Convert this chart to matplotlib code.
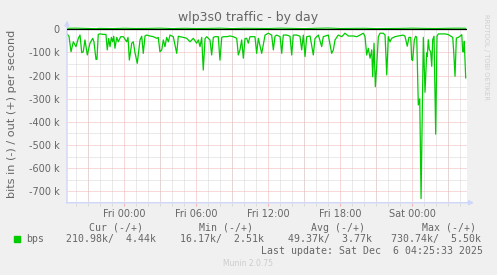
import matplotlib
matplotlib.use("Agg")
import matplotlib.pyplot as plt
from matplotlib.patches import Rectangle
from matplotlib.ticker import MultipleLocator, FuncFormatter

# hours relative to Fri 00:00, inbound traffic in kbit/s (drawn negative)
in_hours = [-4.75, -4.61, -4.44, -4.25, -4.03, -3.83, -3.69, -3.55, -3.42, -3.28,
            -3.08, -2.86, -2.63, -2.53, -2.36, -2.28, -2.17, -2.03, -1.78, -1.53,
            -1.42, -1.30, -1.19, -1.08, -0.97, -0.88, -0.78, -0.63, -0.50, -0.30,
            -0.08, 0.20, 0.31, 0.42, 0.62, 0.75, 0.89, 1.08, 1.31, 1.45,
            1.58, 1.73, 1.87, 2.14, 2.42, 2.70, 2.83, 2.97, 3.12, 3.25,
            3.39, 3.53, 3.67, 3.81, 4.08, 4.37, 4.50, 4.64, 4.92, 5.20,
            5.48, 5.75, 6.03, 6.17, 6.31, 6.45, 6.58, 6.73, 6.87, 7.14,
            7.28, 7.42, 7.56, 7.83, 7.97, 8.12, 8.25, 8.53, 8.81, 9.08,
            9.37, 9.50, 9.64, 9.78, 9.92, 10.06, 10.20, 10.33, 10.47, 10.62,
            10.89, 11.03, 11.17, 11.45, 11.73, 12.00, 12.28, 12.42, 12.56, 12.70,
            12.98, 13.12, 13.25, 13.53, 13.81, 13.95, 14.08, 14.37, 14.64, 14.78,
            14.92, 15.06, 15.20, 15.48, 15.75, 15.89, 16.03, 16.17, 16.45, 16.58,
            17.00, 17.28, 17.42, 17.56, 17.83, 18.12, 18.39, 18.67, 19.08, 19.37,
            19.64, 19.92, 20.06, 20.20, 20.33, 20.48, 20.62, 20.70, 20.81, 20.92,
            21.03, 21.17, 21.31, 21.58, 21.73, 21.87, 22.00, 22.14, 22.28, 22.56,
            22.83, 23.25, 23.39, 23.58, 23.72, 23.87, 23.95, 24.03, 24.17, 24.28,
            24.37, 24.50, 24.62, 24.73, 24.92, 25.06, 25.20, 25.25, 25.33, 25.42,
            25.53, 25.62, 25.70, 25.81, 25.95, 26.06, 26.17, 26.45, 26.73, 27.00,
            27.22, 27.37, 27.45, 27.56, 27.67, 27.83, 27.98, 28.12, 28.20, 28.28,
            28.33, 28.45]
in_kbps = [22, 30, 97, 54, 75, 39, 25, 101, 97, 46,
           111, 60, 39, 54, 130, 130, 22, 20, 22, 22,
           89, 40, 75, 35, 54, 30, 82, 35, 54, 32,
           32, 54, 35, 133, 60, 54, 101, 147, 46, 30,
           104, 28, 25, 29, 32, 39, 35, 97, 89, 46,
           75, 35, 54, 25, 32, 104, 30, 32, 35, 39,
           54, 39, 60, 46, 75, 35, 176, 40, 32, 46,
           111, 35, 32, 32, 133, 35, 32, 32, 29, 32,
           39, 111, 89, 46, 125, 40, 39, 60, 32, 32,
           32, 104, 39, 104, 25, 17, 25, 89, 30, 25,
           32, 104, 25, 25, 30, 111, 25, 25, 30, 89,
           25, 118, 32, 29, 111, 40, 32, 25, 75, 32,
           25, 104, 89, 46, 25, 32, 17, 29, 29, 32,
           25, 17, 32, 111, 82, 125, 89, 205, 60, 248,
           161, 32, 17, 17, 25, 197, 32, 54, 39, 32,
           29, 25, 30, 73, 35, 35, 131, 135, 45, 30,
           35, 327, 300, 731, 35, 272, 102, 117, 45, 88,
           97, 160, 45, 30, 453, 30, 20, 20, 20, 23,
           30, 35, 97, 203, 38, 35, 30, 23, 97, 97,
           52, 210]

# outbound traffic in kbit/s (drawn positive)
out_hours = [-4.75, -4.0, -3.0, -2.3, -2.1, -1.0, 0.0, 1.0, 2.0, 3.0,
             4.0, 5.0, 6.0, 7.0, 8.0, 9.0, 10.0, 11.0, 12.0, 13.0,
             14.0, 15.0, 16.0, 17.0, 18.0, 19.0, 20.0, 21.0, 22.0, 23.0,
             24.0, 25.0, 26.0, 27.0, 28.0, 28.45]
out_kbps = [4.5, 5.0, 3.5, 2.5, 4.0, 3.0, 4.5, 3.5, 4.0, 5.0,
            3.0, 4.5, 3.5, 4.0, 5.0, 3.0, 4.5, 4.0, 3.5, 5.0,
            4.0, 3.0, 4.5, 5.5, 3.5, 4.0, 4.5, 3.0, 3.5, 4.0,
            5.0, 4.0, 3.5, 4.5, 5.0, 4.4]

tick_hours = [0, 6, 12, 18, 24]
tick_labels = ["Fri 00:00", "Fri 06:00", "Fri 12:00", "Fri 18:00", "Sat 00:00"]

W, H = 497, 275
GREY = "#666666"
MGRID = "#f3b4b4"
GRID = "#d6d6d6"
AXIS = "#cfd6f8"


def fp(x, y):
    return x / W, 1 - y / H


fig = plt.figure(figsize=(W / 100, H / 100), dpi=100, facecolor="#f0f0f0")
ax = fig.add_axes([67 / W, 1 - 202.7 / H, 400 / W, (202.7 - 26.5) / H])
ax.set_facecolor("white")
ax.set_xlim(-4.775, 28.558)
ax.set_ylim(-749, 12)

for s in ax.spines.values():
    s.set_visible(False)

# dotted grid: 1 px on / 1 px off
dot = (0, (1, 1))
glw = 0.72
ax.yaxis.set_major_locator(MultipleLocator(100))
ax.yaxis.set_minor_locator(MultipleLocator(50))
ax.set_xticks(tick_hours)
ax.set_xticks([h for h in range(-4, 29) if h not in tick_hours], minor=True)
ax.set_xticklabels(tick_labels)
ax.grid(which="minor", color=GRID, lw=glw, linestyle=dot)
ax.grid(which="major", color=MGRID, lw=glw, linestyle=dot)
ax.set_axisbelow(True)
for h in range(-3, 29, 3):
    if h not in tick_hours:
        ax.axvline(h, color=MGRID, lw=glw, linestyle=dot, zorder=0.5)

ax.plot(out_hours, out_kbps, color="#00cc00", lw=0.8, zorder=3)
ax.plot(in_hours, [-v for v in in_kbps], color="#00cc00", lw=0.9, zorder=3)
ax.axhline(0, color="black", lw=0.9, zorder=4)

ax.yaxis.set_major_formatter(FuncFormatter(lambda v, p: "0" if v == 0 else f"{int(v)} k"))
ax.tick_params(axis="x", which="major", length=2, color=MGRID, pad=2.5,
               labelsize=7, labelcolor=GREY)
ax.tick_params(axis="x", which="minor", length=2, color=GRID)
ax.tick_params(axis="y", which="both", length=0, pad=5.5, labelsize=7, labelcolor=GREY)

# axes with arrows
ax.annotate("", xy=fp(67, 20.5), xytext=fp(67, 203), xycoords="figure fraction",
            arrowprops=dict(arrowstyle="-|>", color=AXIS, lw=1, mutation_scale=7,
                            shrinkA=0, shrinkB=0))
ax.annotate("", xy=fp(474, 202.7), xytext=fp(66.5, 202.7), xycoords="figure fraction",
            arrowprops=dict(arrowstyle="-|>", color=AXIS, lw=1, mutation_scale=7,
                            shrinkA=0, shrinkB=0))

fig.text(*fp(248.5, 17.5), "wlp3s0 traffic - by day", ha="center", va="center",
         fontsize=9, color=GREY)
fig.text(*fp(11.7, 114), "bits in (-) / out (+) per second", rotation=90,
         ha="center", va="center", fontsize=8.1, color=GREY)
fig.text(*fp(485.7, 56.5), "RRDTOOL / TOBI OETIKER", rotation=-90,
         ha="center", va="center", fontsize=4.9, color="#cfcfcf")

mono = dict(family="DejaVu Sans Mono", fontsize=7.1, color=GREY, va="center", ha="left")
for x, s in [(89.3, "Cur (-/+)"), (200, "Min (-/+)"), (311.7, "Avg (-/+)"), (422.7, "Max (-/+)")]:
    fig.text(*fp(x - 0.6, 227.7), s, **mono)
fig.patches.append(Rectangle(fp(14, 242), 6 / W, 6 / H, transform=fig.transFigure,
                             color="#00cc00", figure=fig))
for x, s in [(26.7, "bps"), (66.7, "210.98k/  4.44k"), (181, "16.17k/  2.51k"),
             (289, "49.37k/  3.77k"), (391.3, "730.74k/  5.50k")]:
    fig.text(*fp(x - 0.6, 239.3), s, **mono)
fig.text(*fp(261.1, 251), "Last update: Sat Dec  6 04:25:33 2025", **mono)
fig.text(*fp(248, 264), "Munin 2.0.75", ha="center", va="center", fontsize=5.5,
         color="#cccccc")

fig.savefig("out.png", dpi=100, facecolor=fig.get_facecolor())
